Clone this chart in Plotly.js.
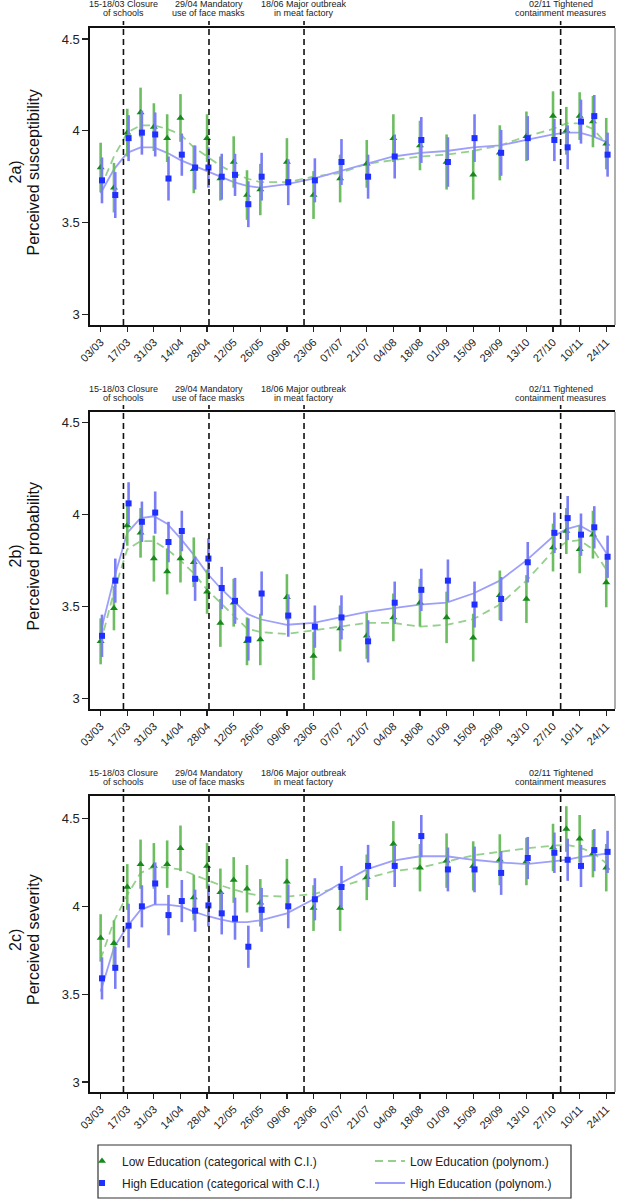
<!DOCTYPE html>
<html><head><meta charset="utf-8">
<script src="https://cdn.plot.ly/plotly-3.0.1.min.js"></script>
<style>html,body{margin:0;padding:0;background:#fff}#chart{width:618px;height:1200px}</style>
</head><body><div id="chart"></div>
<script>
// ---------- data ----------
const surveyDates = ['03/03','10/03','17/03','24/03','31/03','07/04','14/04','21/04','28/04','05/05','12/05','19/05','26/05','09/06','23/06','07/07','21/07','04/08','18/08','01/09','15/09','29/09','13/10','27/10','03/11','10/11','17/11','24/11'];
const tickLabels = ['03/03','17/03','31/03','14/04','28/04','12/05','26/05','09/06','23/06','07/07','21/07','04/08','18/08','01/09','15/09','29/09','13/10','27/10','10/11','24/11'];
const eventDates = ['15/03','29/04','18/06','31/10'];
const eventLine1 = ['15-18/03 Closure','29/04 Mandatory','18/06 Major outbreak','02/11 Tightened'];
const eventLine2 = ['of schools','use of face masks','in meat factory','containment measures'];
const panelLabels = ['2a)','2b)','2c)'];
const panelTitles = ['Perceived susceptibility','Perceived probability','Perceived severity'];
const seriesNames = ['Low Education (categorical with C.I.)','High Education (categorical with C.I.)','Low Education (polynom.)','High Education (polynom.)'];

// 2a) susceptibility
const lowA   = [3.80,3.69,3.99,4.10,4.02,3.96,4.07,3.79,3.96,3.74,3.83,3.65,3.68,3.83,3.65,3.74,3.82,3.96,3.92,3.83,3.76,3.88,3.97,4.08,4.00,4.08,4.05,3.93];
const lowACI = [0.135,0.135,0.13,0.135,0.13,0.13,0.13,0.13,0.13,0.12,0.14,0.135,0.14,0.13,0.13,0.13,0.13,0.13,0.135,0.15,0.135,0.15,0.135,0.135,0.13,0.13,0.14,0.14];
const highA   = [3.73,3.65,3.96,3.99,3.98,3.74,3.87,3.80,3.80,3.75,3.76,3.60,3.75,3.72,3.73,3.83,3.75,3.86,3.95,3.83,3.96,3.88,3.96,3.95,3.91,4.05,4.08,3.87];
const highACI = [0.125,0.125,0.125,0.12,0.12,0.12,0.115,0.12,0.11,0.125,0.115,0.125,0.13,0.125,0.12,0.125,0.12,0.12,0.125,0.135,0.13,0.125,0.12,0.115,0.12,0.12,0.115,0.12];
const lowAFit  = [3.69,3.86,3.99,4.03,4.03,4.01,3.98,3.91,3.86,3.81,3.77,3.74,3.72,3.72,3.75,3.77,3.82,3.84,3.86,3.87,3.89,3.92,3.97,4.01,4.04,4.04,4.01,3.93];
const highAFit = [3.66,3.79,3.88,3.91,3.91,3.88,3.84,3.81,3.78,3.75,3.72,3.70,3.69,3.71,3.74,3.78,3.82,3.86,3.88,3.89,3.91,3.92,3.95,3.98,3.99,3.99,3.97,3.94];

// 2b) probability
const lowB   = [3.31,3.49,3.94,3.90,3.76,3.69,3.76,3.74,3.58,3.41,3.52,3.31,3.32,3.55,3.23,3.38,3.34,3.44,3.52,3.44,3.33,3.56,3.54,3.82,3.91,3.81,3.89,3.63];
const lowBCI = [0.125,0.12,0.11,0.135,0.125,0.125,0.13,0.135,0.12,0.13,0.13,0.13,0.14,0.125,0.13,0.125,0.125,0.13,0.13,0.14,0.13,0.135,0.13,0.13,0.125,0.13,0.13,0.135];
const highB   = [3.34,3.64,4.06,3.96,4.01,3.85,3.91,3.65,3.76,3.60,3.53,3.32,3.57,3.45,3.39,3.44,3.31,3.52,3.59,3.64,3.51,3.54,3.74,3.90,3.98,3.89,3.93,3.77];
const highBCI = [0.115,0.12,0.115,0.11,0.115,0.11,0.11,0.12,0.11,0.115,0.125,0.115,0.12,0.115,0.115,0.12,0.115,0.115,0.115,0.115,0.125,0.12,0.11,0.11,0.12,0.115,0.115,0.115];
const lowBFit  = [3.30,3.58,3.81,3.855,3.855,3.81,3.75,3.68,3.59,3.52,3.45,3.38,3.36,3.35,3.37,3.39,3.41,3.41,3.39,3.40,3.43,3.51,3.64,3.80,3.85,3.86,3.81,3.70];
const highBFit = [3.36,3.65,3.90,3.98,3.99,3.95,3.87,3.78,3.68,3.60,3.53,3.46,3.43,3.40,3.41,3.44,3.47,3.49,3.51,3.52,3.57,3.64,3.75,3.88,3.92,3.94,3.90,3.79];

// 2c) severity
const lowC   = [3.82,3.79,4.11,4.24,4.23,4.24,4.33,4.05,4.23,4.08,4.15,4.10,4.02,4.14,3.99,3.99,4.165,4.355,4.22,4.26,4.23,4.265,4.255,4.335,4.44,4.385,4.30,4.22];
const lowCCI = [0.135,0.13,0.13,0.14,0.13,0.135,0.13,0.13,0.13,0.135,0.13,0.135,0.135,0.13,0.13,0.13,0.13,0.13,0.135,0.155,0.14,0.145,0.135,0.135,0.13,0.135,0.135,0.135];
const highC   = [3.59,3.65,3.89,4.00,4.13,3.95,4.03,3.975,4.005,3.96,3.93,3.77,3.98,4.00,4.04,4.11,4.23,4.23,4.40,4.21,4.21,4.19,4.275,4.305,4.265,4.23,4.32,4.31];
const highCCI = [0.12,0.12,0.125,0.12,0.12,0.115,0.12,0.12,0.12,0.12,0.12,0.12,0.125,0.125,0.12,0.12,0.12,0.12,0.12,0.125,0.13,0.125,0.12,0.115,0.12,0.12,0.12,0.12];
const lowCFit  = [3.70,3.915,4.065,4.19,4.225,4.22,4.21,4.18,4.15,4.12,4.095,4.075,4.06,4.055,4.07,4.11,4.16,4.20,4.22,4.255,4.29,4.31,4.33,4.345,4.35,4.335,4.305,4.245];
const highCFit = [3.515,3.765,3.885,3.98,4.01,4.01,4.00,3.97,3.945,3.925,3.91,3.91,3.92,3.96,4.04,4.13,4.21,4.26,4.285,4.285,4.265,4.25,4.24,4.255,4.265,4.28,4.29,4.30];

// ---------- helpers ----------
function dayOf(s){const p=s.split('/').map(Number);return (Date.UTC(2020,p[1]-1,p[0])-Date.UTC(2020,2,3))/86400000;}
const days = surveyDates.map(dayOf);
const tickVals = tickLabels.map(dayOf);
const eventDays = eventDates.map(dayOf);

const panels = [
  {low:lowA,lowCI:lowACI,high:highA,highCI:highACI,lowFit:lowAFit,highFit:highAFit,range:[2.942,4.56]},
  {low:lowB,lowCI:lowBCI,high:highB,highCI:highBCI,lowFit:lowBFit,highFit:highBFit,range:[2.942,4.557]},
  {low:lowC,lowCI:lowCCI,high:highC,highCI:highCCI,lowFit:lowCFit,highFit:highCFit,range:[2.943,4.628]}
];

const W=618,H=1200,ML=90,MR=3,MT=28,MB=108;
const PH=H-MT-MB; // paper height in px
const PW=W-ML-MR;
const panelTop=[28,412,796], panelBot=[325,709,1092];
const py=p=>(H-MB-p)/PH;      // pixel y -> paper y
const px=p=>(p-ML)/PW;        // pixel x -> paper x

const FONT='Arial, "Liberation Sans", sans-serif';
const GREEN_PT='#178a1b', GREEN_CI='#6dbd61', GREEN_FIT='#95d08c';
const BLUE_PT='#1f2fff', BLUE_CI='#7a7ef6', BLUE_FIT='#9d9ffb';
const HIGH_SHIFT=0.7;

const traces=[]; const shapes=[]; const annotations=[];
const layout={width:W,height:H,margin:{l:ML,r:MR,t:MT,b:MB},paper_bgcolor:'#fff',plot_bgcolor:'#fff',
  font:{family:FONT,color:'#222'},showlegend:true};

panels.forEach((P,i)=>{
  const s=i===0?'':String(i+1);
  const xa='x'+s, ya='y'+s;
  const last=i===2;
  traces.push({x:days,y:P.lowFit,xaxis:xa,yaxis:ya,mode:'lines',name:seriesNames[2],legend:'legend2',legendgroup:'lf',legendrank:1,showlegend:last,
    line:{color:GREEN_FIT,width:1.8,dash:'8px,5px'},hoverinfo:'skip'});
  traces.push({x:days,y:P.highFit,xaxis:xa,yaxis:ya,mode:'lines',name:seriesNames[3],legend:'legend2',legendgroup:'hf',legendrank:2,showlegend:last,
    line:{color:BLUE_FIT,width:1.8},hoverinfo:'skip'});
  traces.push({x:days,y:P.low,xaxis:xa,yaxis:ya,mode:'markers',name:seriesNames[0],legend:'legend',legendgroup:'lp',legendrank:1,showlegend:last,
    marker:{symbol:'triangle-up',size:7,color:GREEN_PT},
    error_y:{type:'data',array:P.lowCI,visible:true,color:GREEN_CI,thickness:2.6,width:0}});
  traces.push({x:days.map(d=>d+HIGH_SHIFT),y:P.high,xaxis:xa,yaxis:ya,mode:'markers',name:seriesNames[1],legend:'legend',legendgroup:'hp',legendrank:2,showlegend:last,
    marker:{symbol:'square',size:6,color:BLUE_PT},
    error_y:{type:'data',array:P.highCI,visible:true,color:BLUE_CI,thickness:2.6,width:0}});

  const dom=[py(panelBot[i]),py(panelTop[i])];
  layout['xaxis'+s]={anchor:ya,domain:[0,1],range:[-5.6,270.6],tickvals:tickVals,ticktext:tickLabels,tickangle:-45,
    ticks:'outside',ticklen:5,tickwidth:1.2,tickcolor:'#222',showgrid:false,zeroline:false,showline:true,linecolor:'#111',linewidth:1.6,
    mirror:true,tickfont:{size:11,family:FONT,color:'#222'}};
  layout['yaxis'+s]={anchor:xa,domain:dom,range:P.range,tickvals:[3,3.5,4,4.5],ticks:'outside',ticklen:6,tickwidth:1.2,tickcolor:'#222',
    showgrid:false,zeroline:false,showline:true,linecolor:'#111',linewidth:1.6,tickfont:{size:13,family:FONT,color:'#222'}};

  // right border (lighter)
  shapes.push({type:'line',xref:xa+' domain',yref:ya+' domain',x0:1,x1:1,y0:0,y1:1,line:{color:'#777',width:1.2}});
  // event lines and labels
  const ph=panelBot[i]-panelTop[i];
  eventDays.forEach((d,k)=>{
    shapes.push({type:'line',xref:xa,yref:ya+' domain',x0:d,x1:d,y0:0,y1:1+7/ph,line:{color:'#111',width:1.6,dash:'6px,4px'}});
    annotations.push({xref:xa,yref:ya+' domain',x:d,y:1+23.5/ph,text:eventLine1[k],showarrow:false,xanchor:'center',yanchor:'middle',
      font:{size:9,family:FONT,color:'#222'}});
    annotations.push({xref:xa,yref:ya+' domain',x:d,y:1+14.5/ph,text:eventLine2[k],showarrow:false,xanchor:'center',yanchor:'middle',
      font:{size:9,family:FONT,color:'#222'}});
  });
  // y titles
  const yc=py((panelTop[i]+panelBot[i])/2-4);
  annotations.push({xref:'paper',yref:'paper',x:px(15),y:yc,text:panelLabels[i],textangle:-90,showarrow:false,xanchor:'center',yanchor:'middle',
    font:{size:16,family:FONT,color:'#111'}});
  annotations.push({xref:'paper',yref:'paper',x:px(33),y:yc,text:panelTitles[i],textangle:-90,showarrow:false,xanchor:'center',yanchor:'middle',
    font:{size:16,family:FONT,color:'#111'}});
});

// legend frame
shapes.push({type:'rect',xref:'paper',yref:'paper',x0:px(98),x1:px(571),y0:py(1198),y1:py(1145),line:{color:'#333',width:1.2},fillcolor:'rgba(0,0,0,0)'});

layout.legend={x:px(82),y:py(1146.5),xanchor:'left',yanchor:'top',orientation:'v',bgcolor:'rgba(0,0,0,0)',borderwidth:0,
  tracegroupgap:3,font:{size:12,family:FONT,color:'#222'}};
layout.legend2={x:px(370),y:py(1146.5),xanchor:'left',yanchor:'top',orientation:'v',bgcolor:'rgba(0,0,0,0)',borderwidth:0,
  tracegroupgap:3,font:{size:12,family:FONT,color:'#222'}};
layout.shapes=shapes;
layout.annotations=annotations;

Plotly.newPlot('chart',traces,layout,{displayModeBar:false,staticPlot:true});
</script>
</body></html>
